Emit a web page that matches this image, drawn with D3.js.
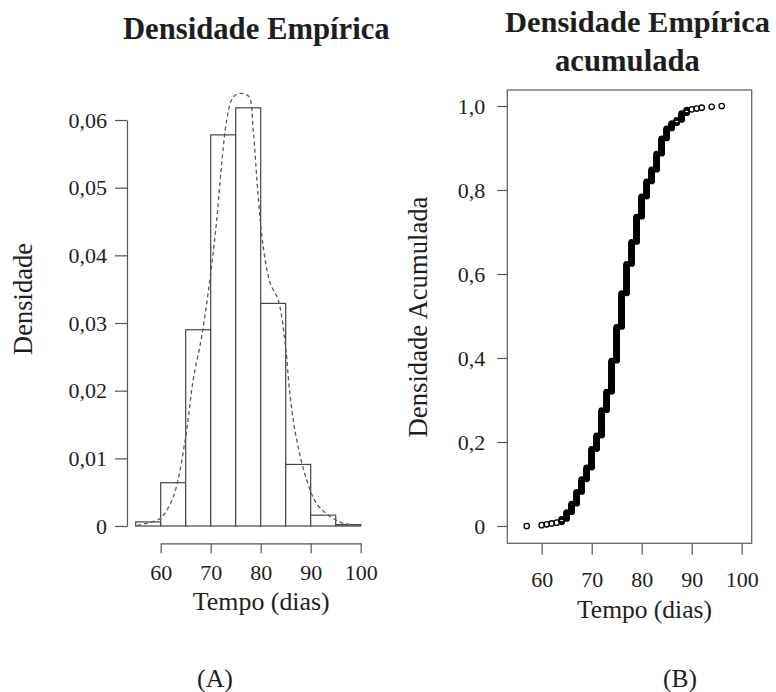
<!DOCTYPE html>
<html>
<head>
<meta charset="utf-8">
<script src="https://cdn.jsdelivr.net/npm/d3@7"></script>
<style>
  body { margin: 0; background: #fff; }
  text { font-family: "Liberation Serif", "Times New Roman", serif; fill: #1e1e1e; }
</style>
</head>
<body>
<svg id="chart" width="776" height="692"></svg>
<script>
// (A) histogram of days, density scale
let binEdges = [55, 60, 65, 70, 75, 80, 85, 90, 95, 100];
let binDensity = [0.0006, 0.0064, 0.029, 0.0578, 0.0618, 0.0329, 0.0091, 0.0016, 0.0002];

// kernel density
let curveX = [55.3, 57.2, 60, 62.5, 64.9, 66.5, 68.2, 69.9, 71.2, 72.2, 73.2, 74.2, 75.2, 76.5,
              77.7, 78.5, 79.5, 80.5, 81.9, 83.5, 84.9, 85.9, 87.2, 89.2, 91.2, 93.9, 96.5, 99.9];
let curveY = [0.0001, 0.0004, 0.0012, 0.0043, 0.0127, 0.0216, 0.028, 0.0368, 0.0452, 0.0536, 0.060, 0.063, 0.0638, 0.0639,
              0.0634, 0.0585, 0.0487, 0.0413, 0.0359, 0.0334, 0.027, 0.0191, 0.0127, 0.0068, 0.0033, 0.0014, 0.0004, 0.0001];

let histXTicks = [60, 70, 80, 90, 100];
let histYTicks = [0, 0.01, 0.02, 0.03, 0.04, 0.05, 0.06];

// (B) empirical cdf: how many observations at each day
let days      = [57, 60, 61, 62, 63, 64, 65, 66, 67, 68, 69, 70, 71, 72, 73, 74, 75, 76, 77, 78,
                 79, 80, 81, 82, 83, 84, 85, 86, 87, 88, 89, 90, 91, 92, 94, 96];
let dayCounts = [1, 1, 1, 1, 1, 4, 8, 10, 14, 15, 14, 22, 16, 30, 22, 37, 40, 40, 35, 26,
                 30, 24, 18, 14, 19, 18, 12, 6, 4, 8, 4, 1, 1, 1, 1, 1];

let ecdfXTicks = [60, 70, 80, 90, 100];
let ecdfYTicks = [0, 0.2, 0.4, 0.6, 0.8, 1.0];

let pt = d3.formatLocale({decimal: ",", thousands: ".", grouping: [3], currency: ["R$", ""]});
let f2 = pt.format(".2f"), f1 = pt.format(".1f");

let svg = d3.select("#chart");
let lineCol = "#555";

// shrink/grow a text until it has the wanted width
function fitWidth(sel, w) {
    let len = sel.node().getComputedTextLength();
    let fs = parseFloat(sel.attr("font-size"));
    sel.attr("font-size", fs * w / len);
}

function addText(str, x, y, size, width, opts) {
    opts = opts || {};
    let t = svg.append("text")
        .text(str)
        .attr("font-size", size)
        .attr("text-anchor", "middle")
        .attr("font-weight", opts.bold ? "bold" : null);
    if (opts.rotate) {
        t.attr("transform", "translate(" + x + "," + y + ") rotate(-90)");
    } else {
        t.attr("x", x).attr("y", y);
    }
    if (width) fitWidth(t, width);
    return t;
}

function styleAxis(g, size) {
    g.attr("font-family", null).attr("font-size", size);
    g.selectAll("line").attr("stroke", lineCol).attr("stroke-width", 1.2);
    g.selectAll("path.domain").attr("stroke", lineCol).attr("stroke-width", 1.2);
}

// ---------- panel A ----------
let xA = d3.scaleLinear().domain([60, 100]).range([160.7, 360.7]);
let yA = d3.scaleLinear().domain([0, 0.06]).range([526, 120]);

svg.append("g").selectAll("rect")
    .data(binDensity)
    .enter()
    .append("rect")
    .attr("x", function(d, i) { return xA(binEdges[i]); })
    .attr("y", function(d) { return yA(d); })
    .attr("width", function(d, i) { return xA(binEdges[i + 1]) - xA(binEdges[i]); })
    .attr("height", function(d) { return yA(0) - yA(d); })
    .attr("fill", "#fff")
    .attr("stroke", "#444")
    .attr("stroke-width", 1.2);

let dens = d3.line()
    .x(function(d) { return xA(d[0]); })
    .y(function(d) { return yA(d[1]); })
    .curve(d3.curveCatmullRom);

svg.append("path")
    .datum(d3.zip(curveX, curveY))
    .attr("d", dens)
    .attr("fill", "none")
    .attr("stroke", "#5a5a5a")
    .attr("stroke-width", 1.3)
    .attr("stroke-dasharray", "4,3");

let axAy = svg.append("g")
    .attr("transform", "translate(127,0)")
    .call(d3.axisLeft(yA).tickValues(histYTicks).tickSize(12).tickSizeOuter(0).tickPadding(8)
        .tickFormat(function(d) { return d === 0 ? "0" : f2(d); }));
styleAxis(axAy, 22);

let axAx = svg.append("g")
    .attr("transform", "translate(0,543.3)")
    .call(d3.axisBottom(xA).tickValues(histXTicks).tickSize(10).tickSizeOuter(0));
styleAxis(axAx, 22);
axAx.selectAll("text").attr("y", 36.7).attr("dy", 0);

addText("Densidade Empírica", 256.3, 39, 30, 267, {bold: true});
addText("Tempo (dias)", 261.3, 610, 25, 137);
addText("Densidade", 31.7, 299, 26, 112, {rotate: true});
addText("(A)", 215, 687, 26, 36);

// ---------- panel B ----------
let xB = d3.scaleLinear().domain([60, 100]).range([541.7, 741.7]);
let yB = d3.scaleLinear().domain([0, 1]).range([526, 106]);

let n = d3.sum(dayCounts);
let obs = [];
days.forEach(function(day, k) {
    for (let j = 0; j < dayCounts[k]; j++) obs.push(day);
});

svg.append("g").selectAll("circle")
    .data(obs)
    .enter()
    .append("circle")
    .attr("cx", function(d) { return xB(d); })
    .attr("cy", function(d, i) { return yB(i / (n - 1)); })
    .attr("r", 2.7)
    .attr("fill", "none")
    .attr("stroke", "#000")
    .attr("stroke-width", 1.3);

svg.append("rect")
    .attr("x", 507.3)
    .attr("y", 90)
    .attr("width", 244.4)
    .attr("height", 453.3)
    .attr("fill", "none")
    .attr("stroke", "#666")
    .attr("stroke-width", 1.3);

let axBy = svg.append("g")
    .attr("transform", "translate(507.3,0)")
    .call(d3.axisLeft(yB).tickValues(ecdfYTicks).tickSize(10).tickPadding(12)
        .tickFormat(function(d) { return d === 0 ? "0" : f1(d); }));
styleAxis(axBy, 22);
axBy.select("path.domain").remove();

let axBx = svg.append("g")
    .attr("transform", "translate(0,543.3)")
    .call(d3.axisBottom(xB).tickValues(ecdfXTicks).tickSize(11.5));
styleAxis(axBx, 22);
axBx.select("path.domain").remove();
axBx.selectAll("text").attr("y", 43.7).attr("dy", 0);

addText("Densidade Empírica", 637.5, 32, 30, 265, {bold: true});
addText("acumulada", 627.5, 71, 30, 145, {bold: true});
addText("Tempo (dias)", 644.5, 618, 25, 135);
addText("Densidade Acumulada", 427, 317, 26, 241, {rotate: true});
addText("(B)", 680, 687, 26, 34);
</script>
</body>
</html>
